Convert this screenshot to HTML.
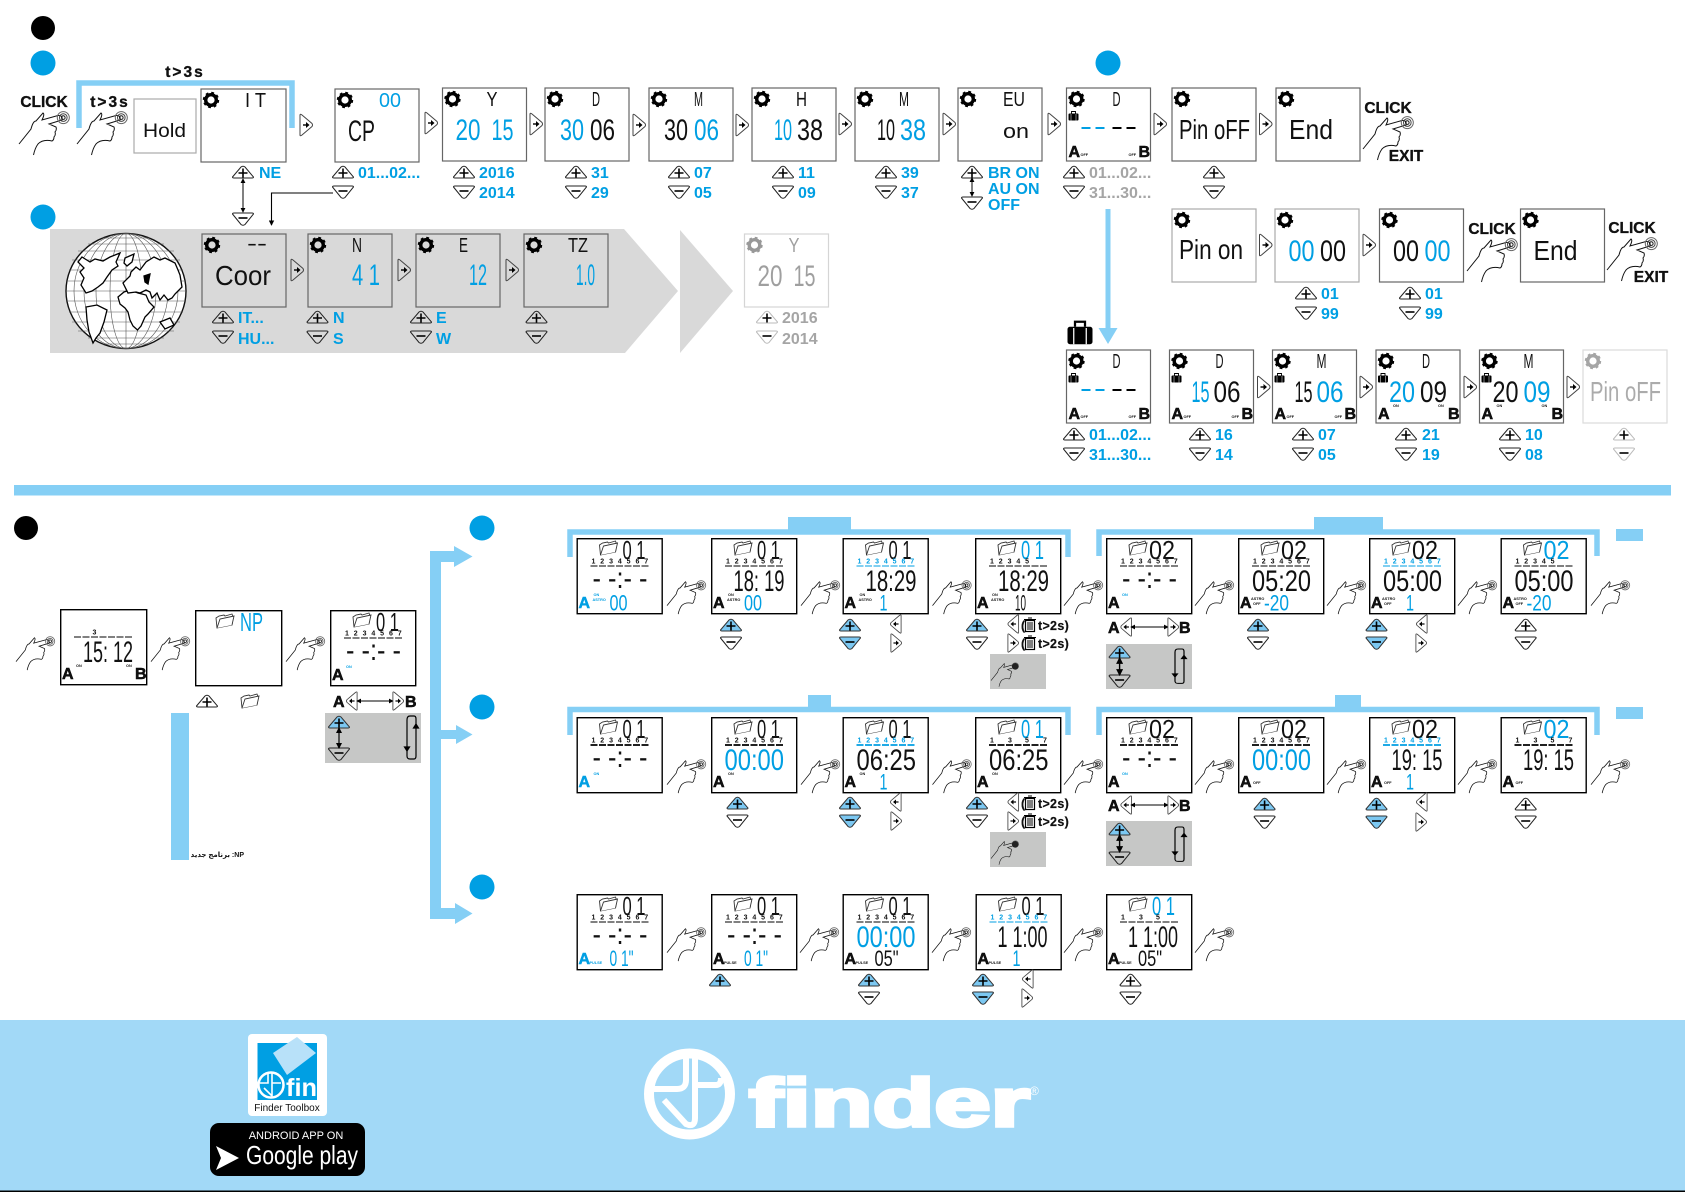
<!DOCTYPE html>
<html><head><meta charset="utf-8"><title>Finder</title>
<style>
html,body{margin:0;padding:0;background:#fff;width:1685px;height:1192px;overflow:hidden}
svg{display:block}
text{font-family:"Liberation Sans","DejaVu Sans",sans-serif;fill:#111}
.l{font-size:16px;font-weight:bold;fill:#009fe3}
.lg{font-size:16px;font-weight:bold;fill:#a5a5a5}
.c{font-size:15.500px;font-weight:bold;stroke:#000;stroke-width:.3}
.n{font-size:30px}
.m{font-size:26px}
.s{font-size:22px}
.t{font-size:20px}
.p{font-size:28px}
.h{font-size:19px}
.b{fill:#009fe3}
.a{font-size:16px;font-weight:bold;stroke:#000;stroke-width:.5}
.ab{font-size:16px;font-weight:bold;fill:#009fe3;stroke:#009fe3;stroke-width:.5}
.o{font-size:3.8px;font-weight:bold}
.ob{font-size:3.8px;font-weight:bold;fill:#009fe3}
.dy{font-size:7px;font-weight:bold;letter-spacing:4.9px}
.dyb{font-size:7px;font-weight:bold;letter-spacing:4.9px;fill:#009fe3}
.dyx{font-size:7px;font-weight:bold}
.x{font-size:12.500px;font-weight:bold;letter-spacing:.3px;stroke:#000;stroke-width:.2}
.bx{fill:none;stroke:#666;stroke-width:1.2}
.pw{fill:none;stroke:#222}
.pb{fill:#7cc8f2;stroke:#333}
.pg{fill:none;stroke:#bbb}
.nv{fill:#fff;stroke:#444}
.fr{fill:none;stroke:#85cff5}
</style></head><body>
<svg xmlns="http://www.w3.org/2000/svg" width="1685" height="1192" viewBox="0 0 1685 1192">
<defs>
<marker id="ah" viewBox="0 0 6 6" refX="5" refY="3" markerWidth="5" markerHeight="5" orient="auto-start-reverse"><path d="M0 0L6 3L0 6Z" fill="#000"/></marker>
<g id="h" fill="none" stroke="#111" stroke-width="1"><path d="M0 32L12 17Q14 9 17 9L24 1Q26 2 23 8L39 3.5Q44 3 43 8L30 12L37 15Q38 18 36 20Q37 23 35 25Q35 28 33 29Q24 27 19 32Q16 36 14.5 43"/><circle cx="44.3" cy="5.6" r="6" stroke="#666"/><circle cx="44.3" cy="5.6" r="3.8" stroke="#444"/><circle cx="44.3" cy="5.6" r="1.8"/></g>
<g id="h2" transform="scale(.77)"><use href="#h"/></g>
<g id="h3" transform="scale(.55)"><use href="#h"/><circle cx="44" cy="6" r="6" fill="#222"/></g>
<g id="gr"><circle r="5.3" fill="none" stroke="#000" stroke-width="3.4"/><circle r="7" fill="none" stroke="#000" stroke-width="2.4" stroke-dasharray="2.7 2.8"/></g>
<g id="p" stroke-width="1"><path d="M-10.5 5L-2 -5Q0 -6.5 2 -5L10.5 5Q10.5 6 9 6H-9Q-10.5 6-10.5 5Z"/><path d="M-4.5 1H4.5M0 -3.5V5.500" fill="none" stroke="#000" stroke-width="1.6"/></g>
<g id="mn" stroke-width="1"><path d="M-10.500 -5L-2 5.500Q0 7 2 5.500L10.500 -5Q10.500 -6 9 -6H-9Q-10.500 -6-10.500 -5Z"/><path d="M-4.500 -1H4.500" fill="none" stroke="#000" stroke-width="1.6"/></g>
<g id="a" stroke-width="1"><path d="M-6 -10Q-6 -11.500-4 -10L6 -1.500Q7 0 6 1.500L-4 10Q-6 11.500-6 10Z"/><path d="M-3 0H1" stroke="#000" stroke-width="1.400"/><path d="M0 -3L3.500 0L0 3Z" fill="#000" stroke="none"/></g>
<g id="as" transform="scale(.85)"><use href="#a"/></g>
<g id="asl" transform="scale(-.85,.85)"><use href="#a"/></g>
<g id="bag"><rect x="-5" y="-2.500" width="10" height="7" rx="1" fill="#000"/><path d="M-2 -2.500V-4.500H2V-2.500" fill="none" stroke="#000" stroke-width=".9"/><path d="M-2.500 -2V4.500M2.500 -2V4.500" stroke="#fff" stroke-width=".5"/></g>
<g id="fold" fill="#fff" stroke="#333" stroke-width=".9"><path d="M-8 7L-9 -3L-6 -5L-1 -6L0 -5L7 -7L8 -4L7 4L-8 7Z"/><path d="M-8 7L-5 -2L9 -5L7 4"/></g>
<g id="c"><rect x=".7" y=".7" width="85" height="75" fill="#fff" stroke="#000" stroke-width="1.400"/><use href="#fold" x="32" y="10"/></g>
<g id="u"><path d="M14 28H73" stroke="#000" stroke-width="1" stroke-dasharray="7 1.500"/></g>
<g id="ub"><path d="M14 28H73" stroke="#009fe3" stroke-width="1" stroke-dasharray="7 1.500"/></g>
<g id="u2"><path d="M14 28H73" stroke="#000" stroke-width="1.800" stroke-dasharray="7 1.500"/></g>
<g id="ub2"><path d="M14 28H73" stroke="#009fe3" stroke-width="1.800" stroke-dasharray="7 1.500"/></g>
<g id="tr"><rect x="-4.500" y="-4.500" width="9" height="11" fill="#fff" stroke="#000" stroke-width="1.200"/><path d="M-6 -5.500H6M-2 -3V5M0 -3V5M2 -3V5" stroke="#000" stroke-width="1"/><path d="M-2 -7H2" stroke="#000" stroke-width="1"/></g>
<g id="lp" fill="none" stroke="#000" stroke-width="1.200"><path d="M0 4Q0 0 3 0H7Q9 0 9 3V40Q9 43 7 43H3Q0 43 0 40Z"/><path d="M-2.500 31H2.500L0 35Z" fill="#000"/><path d="M6.500 12H11.500L9 8Z" fill="#000"/></g>
</defs>

<!-- Section 1 -->
<circle cx="43" cy="28" r="12" fill="#000"/>
<circle cx="43" cy="63" r="12.500" fill="#009fe3"/>
<circle cx="43" cy="217" r="12.500" fill="#009fe3"/>
<circle cx="1108" cy="63" r="12.500" fill="#009fe3"/>
<path class="fr" stroke-width="5.500" d="M79 128V83H292V128"/>
<text class="c" x="185" y="77" text-anchor="middle" letter-spacing="2">t&gt;3s</text>
<text class="c" x="44" y="107" text-anchor="middle">CLICK</text>
<text class="c" x="110" y="107" text-anchor="middle" letter-spacing="2">t&gt;3s</text>
<use href="#h" x="19" y="112"/><use href="#h" x="77" y="112"/>
<g transform="translate(134,99)"><rect class="bx" width="62" height="54" style="stroke:#aaa"/><text class="h" x="9" y="38" textLength="43" lengthAdjust="spacingAndGlyphs">Hold</text></g>
<g transform="translate(201,89)"><rect class="bx" width="85" height="73"/><use href="#gr" x="10" y="11"/><text class="t" x="44" y="18" textLength="21" lengthAdjust="spacingAndGlyphs">I T</text></g>
<g transform="translate(335,89)"><rect class="bx" width="84" height="73"/><use href="#gr" x="10" y="11"/><text class="t b" x="44" y="18" textLength="22" lengthAdjust="spacingAndGlyphs">00</text><text class="n" x="13" y="52" textLength="27" lengthAdjust="spacingAndGlyphs">CP</text></g>
<g transform="translate(442.500,88)"><rect class="bx" width="84" height="73"/><use href="#gr" x="10" y="11"/><text class="t" x="44" y="18" textLength="11" lengthAdjust="spacingAndGlyphs">Y</text><text class="n b" x="13" y="52" textLength="25" lengthAdjust="spacingAndGlyphs">20</text><text class="n b" x="49" y="52" textLength="22" lengthAdjust="spacingAndGlyphs">15</text></g>
<g transform="translate(545,88)"><rect class="bx" width="84" height="73"/><use href="#gr" x="10" y="11"/><text class="t" x="47" y="18" textLength="8" lengthAdjust="spacingAndGlyphs">D</text><text class="n b" x="15" y="52" textLength="24" lengthAdjust="spacingAndGlyphs">30</text><text class="n" x="45" y="52" textLength="25" lengthAdjust="spacingAndGlyphs">06</text></g>
<g transform="translate(649,88)"><rect class="bx" width="84" height="73"/><use href="#gr" x="10" y="11"/><text class="t" x="45" y="18" textLength="9" lengthAdjust="spacingAndGlyphs">M</text><text class="n" x="15" y="52" textLength="24" lengthAdjust="spacingAndGlyphs">30</text><text class="n b" x="45" y="52" textLength="25" lengthAdjust="spacingAndGlyphs">06</text></g>
<g transform="translate(752,88)"><rect class="bx" width="84" height="73"/><use href="#gr" x="10" y="11"/><text class="t" x="44" y="18" textLength="11" lengthAdjust="spacingAndGlyphs">H</text><text class="n b" x="22" y="52" textLength="18" lengthAdjust="spacingAndGlyphs">10</text><text class="n" x="45" y="52" textLength="26" lengthAdjust="spacingAndGlyphs">38</text></g>
<g transform="translate(855,88)"><rect class="bx" width="84" height="73"/><use href="#gr" x="10" y="11"/><text class="t" x="44" y="18" textLength="10" lengthAdjust="spacingAndGlyphs">M</text><text class="n" x="22" y="52" textLength="18" lengthAdjust="spacingAndGlyphs">10</text><text class="n b" x="45" y="52" textLength="26" lengthAdjust="spacingAndGlyphs">38</text></g>
<g transform="translate(958,88)"><rect class="bx" width="84" height="73"/><use href="#gr" x="10" y="11"/><text class="t" x="45" y="18" textLength="22" lengthAdjust="spacingAndGlyphs">EU</text><text class="t" x="45" y="50" textLength="26" lengthAdjust="spacingAndGlyphs">on</text></g>
<g transform="translate(1066.500,88)"><rect class="bx" width="84" height="73"/><use href="#gr" x="10" y="11"/><text class="t" x="46" y="18" textLength="8" lengthAdjust="spacingAndGlyphs">D</text><use href="#bag" x="7" y="28"/><path d="M15 40H24M29 40H38" stroke="#009fe3" stroke-width="2"/><path d="M46 40H55M60 40H69" stroke="#000" stroke-width="2"/><text class="a" x="2" y="69">A</text><text class="o" x="14" y="68">OFF</text><text class="o" x="62" y="68">OFF</text><text class="a" x="72" y="69">B</text></g>
<g transform="translate(1172,88)"><rect class="bx" width="84" height="73"/><use href="#gr" x="10" y="11"/><text class="p" x="7" y="51" textLength="71" lengthAdjust="spacingAndGlyphs">Pin oFF</text></g>
<g transform="translate(1276,88)"><rect class="bx" width="84" height="73"/><use href="#gr" x="10" y="11"/><text class="p" x="13" y="51" textLength="44" lengthAdjust="spacingAndGlyphs">End</text></g>
<use href="#a" class="nv" x="306" y="125"/><use href="#a" class="nv" x="431" y="123"/><use href="#a" class="nv" x="536" y="124"/><use href="#a" class="nv" x="639" y="125"/><use href="#a" class="nv" x="742" y="125"/><use href="#a" class="nv" x="845" y="124"/><use href="#a" class="nv" x="949" y="124"/><use href="#a" class="nv" x="1054" y="124"/><use href="#a" class="nv" x="1160" y="124"/><use href="#a" class="nv" x="1265.500" y="124"/>
<text class="c" x="1388" y="113" text-anchor="middle">CLICK</text>
<use href="#h" x="1363" y="117"/>
<text class="c" x="1406" y="161" text-anchor="middle">EXIT</text>

<use href="#p" class="pw" x="243" y="172"/><text class="l" x="259" y="178">NE</text>
<use href="#mn" class="pw" x="243" y="219"/>
<path d="M243 179V212" stroke="#000" stroke-width="1" marker-start="url(#ah)" marker-end="url(#ah)" fill="none"/>
<use href="#p" class="pw" x="343" y="172"/><text class="l" x="358" y="178">01...02...</text>
<use href="#mn" class="pw" x="343" y="192"/>
<path d="M333 193H271.500V225" fill="none" stroke="#000" stroke-width="1.100" marker-end="url(#ah)"/>
<use href="#p" class="pw" x="464" y="172"/><text class="l" x="479" y="178">2016</text>
<use href="#mn" class="pw" x="464" y="192"/><text class="l" x="479" y="198">2014</text>
<use href="#p" class="pw" x="576" y="172"/><text class="l" x="591" y="178">31</text>
<use href="#mn" class="pw" x="576" y="192"/><text class="l" x="591" y="198">29</text>
<use href="#p" class="pw" x="679" y="172"/><text class="l" x="694" y="178">07</text>
<use href="#mn" class="pw" x="679" y="192"/><text class="l" x="694" y="198">05</text>
<use href="#p" class="pw" x="783" y="172"/><text class="l" x="798" y="178">11</text>
<use href="#mn" class="pw" x="783" y="192"/><text class="l" x="798" y="198">09</text>
<use href="#p" class="pw" x="886" y="172"/><text class="l" x="901" y="178">39</text>
<use href="#mn" class="pw" x="886" y="192"/><text class="l" x="901" y="198">37</text>
<use href="#p" class="pw" x="972" y="172"/><use href="#mn" class="pw" x="972" y="203"/>
<path d="M972 178V196" stroke="#000" stroke-width="1" marker-start="url(#ah)" marker-end="url(#ah)" fill="none"/>
<text class="l" x="988" y="178">BR ON</text><text class="l" x="988" y="194">AU ON</text><text class="l" x="988" y="210">OFF</text>
<use href="#p" class="pw" x="1074" y="172"/><text class="lg" x="1089" y="178">01...02...</text>
<use href="#mn" class="pw" x="1074" y="192"/><text class="lg" x="1089" y="198">31...30...</text>
<use href="#p" class="pw" x="1214" y="172"/><use href="#mn" class="pw" x="1214" y="192"/>

<!-- grey band -->
<path d="M50 229H624L678 291L625 353H50Z" fill="#d9d9d9"/>
<path d="M680 230L733 291L680 353Z" fill="#d9d9d9"/>
<g>
<ellipse cx="126" cy="291" rx="60" ry="57.500" fill="#fff" stroke="#111" stroke-width="1.400"/>
<g fill="none" stroke="#555" stroke-width=".6">
<ellipse cx="126" cy="291" rx="52" ry="57.500"/><ellipse cx="126" cy="291" rx="42" ry="57.500"/><ellipse cx="126" cy="291" rx="30" ry="57.500"/><ellipse cx="126" cy="291" rx="16" ry="57.500"/><path d="M126 233.500V348.500M66 291H186M67 281H185M67 301H185M69 270H183M69 312H183M72 260H180M72 322H180M78 251H174M78 331H174M88 244H164M88 338H164M102 238H150M102 344H150"/>
</g>
<g fill="#fff" stroke="#000" stroke-width="1.300">
<path d="M82 257L90 262L95 259L103 261L110 257L120 253L116 262L118 266L112 270L107 277L103 283L98 287L92 291L86 293L81 285L84 278L80 272L84 268L78 262Z"/>
<path d="M125 258L134 254L132 262L127 266L124 263Z"/>
<path d="M86 307L97 305L107 310L104 322L100 333L96 338L93 343L89 332L87 320Z"/>
<path d="M118 297L124 292L130 290L138 293L146 295L149 302L154 307L148 314L145 317L141 326L137.500 330L133 326L130 320L128 312L125 308L120 304Z"/>
<path d="M123 283L130 276L131 272L136 267L140 270L146 262L154 257L160 260L165 258L175 263L178 270L180 275L182 287L175 294L172 298L168 300L164 295L160 300L157 293L152 298L150 292L146 290L140 293L136 292L128 293Z"/>
<path d="M160 322L170 318L174 325L165 329Z"/>
<path d="M144 276L150 274L148 284L145 282Z" fill="#000"/>
</g>
</g>
<g transform="translate(202,234)"><rect class="bx" width="84" height="73"/><use href="#gr" x="10" y="11"/><text class="t" x="45" y="16" textLength="20" lengthAdjust="spacingAndGlyphs">--</text><text class="p" x="13" y="51" textLength="56" lengthAdjust="spacingAndGlyphs">Coor</text></g>
<g transform="translate(308,234)"><rect class="bx" width="84" height="73"/><use href="#gr" x="10" y="11"/><text class="t" x="44" y="18" textLength="10" lengthAdjust="spacingAndGlyphs">N</text><text class="n b" x="44" y="51" textLength="28" lengthAdjust="spacingAndGlyphs">4 1</text></g>
<g transform="translate(416,234)"><rect class="bx" width="84" height="73"/><use href="#gr" x="10" y="11"/><text class="t" x="43" y="18" textLength="9" lengthAdjust="spacingAndGlyphs">E</text><text class="n b" x="53" y="51" textLength="18" lengthAdjust="spacingAndGlyphs">12</text></g>
<g transform="translate(524,234)"><rect class="bx" width="84" height="73"/><use href="#gr" x="10" y="11"/><text class="t" x="44" y="18" textLength="20" lengthAdjust="spacingAndGlyphs">TZ</text><text class="n b" x="52" y="51" textLength="19" lengthAdjust="spacingAndGlyphs">1.0</text></g>
<use href="#a" class="nv" x="297" y="270" style="fill:none"/><use href="#a" class="nv" x="404" y="270" style="fill:none"/><use href="#a" class="nv" x="512" y="270" style="fill:none"/>
<use href="#p" class="pw" x="223" y="317"/><text class="l" x="238" y="323">IT...</text>
<use href="#mn" class="pw" x="223" y="337"/><text class="l" x="238" y="344">HU...</text>
<use href="#p" class="pw" x="317.500" y="317"/><text class="l" x="333" y="323">N</text>
<use href="#mn" class="pw" x="317.500" y="337"/><text class="l" x="333" y="344">S</text>
<use href="#p" class="pw" x="421" y="317"/><text class="l" x="436" y="323">E</text>
<use href="#mn" class="pw" x="421" y="337"/><text class="l" x="436" y="344">W</text>
<use href="#p" class="pw" x="536.500" y="317"/><use href="#mn" class="pw" x="536.500" y="337"/>
<g opacity=".4" transform="translate(744.500,234)"><rect class="bx" width="84" height="73" style="stroke:#999"/><use href="#gr" x="10" y="11"/><text class="t" x="44" y="18" textLength="11" lengthAdjust="spacingAndGlyphs">Y</text><text class="n" x="13" y="52" textLength="25" lengthAdjust="spacingAndGlyphs">20</text><text class="n" x="49" y="52" textLength="22" lengthAdjust="spacingAndGlyphs">15</text></g>
<use href="#p" class="pg" x="767" y="317"/><text class="lg" x="782" y="323">2016</text>
<use href="#mn" class="pg" x="767" y="337"/><text class="lg" x="782" y="344">2014</text>

<!-- down arrow -->
<rect x="1105.500" y="209" width="5" height="122" fill="#85cff5"/>
<path d="M1098.500 328H1117.500L1108 344Z" fill="#85cff5"/>
<g transform="translate(1080,333) scale(2.500)"><use href="#bag"/></g>

<!-- Pin on row -->
<g transform="translate(1172,209)"><rect class="bx" width="84" height="73" style="stroke:#aaa"/><use href="#gr" x="10" y="11"/><text class="p" x="7" y="50" textLength="64" lengthAdjust="spacingAndGlyphs">Pin on</text></g>
<g transform="translate(1275,209)"><rect class="bx" width="84" height="73" style="stroke:#aaa"/><use href="#gr" x="10" y="11"/><text class="n b" x="13.500" y="52" textLength="26" lengthAdjust="spacingAndGlyphs">00</text><text class="n" x="45" y="52" textLength="26" lengthAdjust="spacingAndGlyphs">00</text></g>
<g transform="translate(1379.500,209)"><rect class="bx" width="84" height="73"/><use href="#gr" x="10" y="11"/><text class="n" x="13.500" y="52" textLength="26" lengthAdjust="spacingAndGlyphs">00</text><text class="n b" x="45" y="52" textLength="26" lengthAdjust="spacingAndGlyphs">00</text></g>
<g transform="translate(1520.500,209)"><rect class="bx" width="84" height="73"/><use href="#gr" x="10" y="11"/><text class="p" x="13" y="51" textLength="44" lengthAdjust="spacingAndGlyphs">End</text></g>
<use href="#a" class="nv" x="1265.500" y="245"/><use href="#a" class="nv" x="1369" y="245"/>
<text class="c" x="1492" y="234" text-anchor="middle">CLICK</text><use href="#h" x="1467" y="239"/>
<text class="c" x="1632" y="233" text-anchor="middle">CLICK</text><use href="#h" x="1607" y="238"/>
<text class="c" x="1651" y="282" text-anchor="middle">EXIT</text>
<use href="#p" class="pw" x="1306" y="293"/><text class="l" x="1321" y="299">01</text>
<use href="#mn" class="pw" x="1306" y="313"/><text class="l" x="1321" y="319">99</text>
<use href="#p" class="pw" x="1410" y="293"/><text class="l" x="1425" y="299">01</text>
<use href="#mn" class="pw" x="1410" y="313"/><text class="l" x="1425" y="319">99</text>

<!-- Row 3 right -->
<g transform="translate(1066.500,350)"><rect class="bx" width="84" height="73"/><use href="#gr" x="10" y="11"/><text class="t" x="46" y="18" textLength="8" lengthAdjust="spacingAndGlyphs">D</text><use href="#bag" x="7" y="28"/><path d="M15 40H24M29 40H38" stroke="#009fe3" stroke-width="2"/><path d="M46 40H55M60 40H69" stroke="#000" stroke-width="2"/><text class="a" x="2" y="69">A</text><text class="o" x="14" y="68">OFF</text><text class="o" x="62" y="68">OFF</text><text class="a" x="72" y="69">B</text></g>
<g transform="translate(1169.500,350)"><rect class="bx" width="84" height="73"/><use href="#gr" x="10" y="11"/><text class="t" x="46" y="18" textLength="8" lengthAdjust="spacingAndGlyphs">D</text><use href="#bag" x="7" y="28"/><text class="n b" x="22" y="52" textLength="18" lengthAdjust="spacingAndGlyphs">15</text><text class="n" x="44" y="52" textLength="27" lengthAdjust="spacingAndGlyphs">06</text><text class="a" x="2" y="69">A</text><text class="o" x="14" y="68">OFF</text><text class="o" x="62" y="68">OFF</text><text class="a" x="72" y="69">B</text></g>
<g transform="translate(1272.500,350)"><rect class="bx" width="84" height="73"/><use href="#gr" x="10" y="11"/><text class="t" x="44" y="18" textLength="10" lengthAdjust="spacingAndGlyphs">M</text><use href="#bag" x="7" y="28"/><text class="n" x="22" y="52" textLength="18" lengthAdjust="spacingAndGlyphs">15</text><text class="n b" x="44" y="52" textLength="27" lengthAdjust="spacingAndGlyphs">06</text><text class="a" x="2" y="69">A</text><text class="o" x="14" y="68">OFF</text><text class="o" x="62" y="68">OFF</text><text class="a" x="72" y="69">B</text></g>
<g transform="translate(1376,350)"><rect class="bx" width="84" height="73"/><use href="#gr" x="10" y="11"/><text class="t" x="46" y="18" textLength="8" lengthAdjust="spacingAndGlyphs">D</text><use href="#bag" x="7" y="28"/><text class="n b" x="13" y="52" textLength="26" lengthAdjust="spacingAndGlyphs">20</text><text class="n" x="44" y="52" textLength="27" lengthAdjust="spacingAndGlyphs">09</text><text class="a" x="2" y="69">A</text><text class="o" x="17" y="57">ON</text><text class="o" x="62" y="57">ON</text><text class="a" x="72" y="69">B</text></g>
<g transform="translate(1479.500,350)"><rect class="bx" width="84" height="73"/><use href="#gr" x="10" y="11"/><text class="t" x="44" y="18" textLength="10" lengthAdjust="spacingAndGlyphs">M</text><use href="#bag" x="7" y="28"/><text class="n" x="13" y="52" textLength="26" lengthAdjust="spacingAndGlyphs">20</text><text class="n b" x="44" y="52" textLength="27" lengthAdjust="spacingAndGlyphs">09</text><text class="a" x="2" y="69">A</text><text class="o" x="17" y="57">ON</text><text class="o" x="62" y="57">ON</text><text class="a" x="72" y="69">B</text></g>
<g opacity=".35" transform="translate(1583,350)"><rect class="bx" width="84" height="73" style="stroke:#999"/><use href="#gr" x="10" y="11"/><text class="p" x="7" y="51" textLength="71" lengthAdjust="spacingAndGlyphs">Pin oFF</text></g>
<use href="#a" class="nv" x="1263.500" y="387"/><use href="#a" class="nv" x="1366" y="387"/><use href="#a" class="nv" x="1470" y="387"/><use href="#a" class="nv" x="1573" y="387"/>
<use href="#p" class="pw" x="1074" y="434"/><text class="l" x="1089" y="440">01...02...</text>
<use href="#mn" class="pw" x="1074" y="454"/><text class="l" x="1089" y="460">31...30...</text>
<use href="#p" class="pw" x="1200" y="434"/><text class="l" x="1215" y="440">16</text>
<use href="#mn" class="pw" x="1200" y="454"/><text class="l" x="1215" y="460">14</text>
<use href="#p" class="pw" x="1303" y="434"/><text class="l" x="1318" y="440">07</text>
<use href="#mn" class="pw" x="1303" y="454"/><text class="l" x="1318" y="460">05</text>
<use href="#p" class="pw" x="1406" y="434"/><text class="l" x="1422" y="440">21</text>
<use href="#mn" class="pw" x="1406" y="454"/><text class="l" x="1422" y="460">19</text>
<use href="#p" class="pw" x="1510" y="434"/><text class="l" x="1525" y="440">10</text>
<use href="#mn" class="pw" x="1510" y="454"/><text class="l" x="1525" y="460">08</text>
<use href="#p" class="pg" x="1624" y="434"/><use href="#mn" class="pg" x="1624" y="454"/>

<!-- divider -->
<rect x="14" y="485" width="1657" height="10.500" fill="#85cff5"/>

<!-- Section 2 left -->
<circle cx="26" cy="528" r="12" fill="#000"/>
<circle cx="482" cy="528" r="12.500" fill="#009fe3"/>
<circle cx="482" cy="707" r="12.500" fill="#009fe3"/>
<circle cx="482" cy="887" r="12.500" fill="#009fe3"/>
<path d="M430 551H454V546L472.500 556.500L454 567V562H441V730H456V725L472.500 734.500L456 744V739H441V908H455V903L472.500 913.500L455 924V919H430Z" fill="#85cff5"/>
<use href="#h2" x="16" y="637"/><use href="#h2" x="151" y="637"/><use href="#h2" x="286" y="637"/>
<g transform="translate(60,609)"><rect x=".7" y=".7" width="86" height="75" fill="#fff" stroke="#000" stroke-width="1.400"/><text class="dyx" x="32.500" y="25.500">3</text><use href="#u"/><text class="n" x="23" y="53" textLength="50" lengthAdjust="spacingAndGlyphs">15: 12</text><text class="a" x="2" y="70">A</text><text class="o" x="16" y="58">ON</text><text class="o" x="66" y="58">ON</text><text class="a" x="75" y="70">B</text></g>
<g transform="translate(195,610)"><rect x=".7" y=".7" width="86" height="75" fill="#fff" stroke="#000" stroke-width="1.400"/><use href="#fold" x="30" y="11"/><text class="m b" x="45" y="21" textLength="23" lengthAdjust="spacingAndGlyphs">NP</text></g>
<g transform="translate(330,610)"><use href="#c"/><text class="m" x="46" y="21" textLength="23" lengthAdjust="spacingAndGlyphs">0 1</text><text class="dy" x="15" y="25.500">1234567</text><use href="#u"/><text class="n" x="16" y="50" textLength="55" lengthAdjust="spacingAndGlyphs">- -:- -</text><text class="a" x="2" y="70">A</text><text class="ob" x="16" y="58">ON</text></g>
<use href="#p" class="pw" x="207" y="701"/><use href="#fold" x="250" y="701"/>
<text class="a" x="333" y="707">A</text><use href="#asl" class="nv" x="352" y="701"/><path d="M357 701H393" stroke="#000" stroke-width="1" marker-start="url(#ah)" marker-end="url(#ah)"/><use href="#as" class="nv" x="398" y="701"/><text class="a" x="405" y="707">B</text>
<rect x="325" y="713" width="96" height="50" fill="#c6c7c6"/>
<use href="#p" class="pb" x="339" y="722"/><use href="#mn" class="pw" x="339" y="754" style="fill:none"/><path d="M339 728V748" stroke="#000" stroke-width="1.200" marker-start="url(#ah)" marker-end="url(#ah)"/>
<use href="#lp" x="407" y="716"/>
<rect x="171" y="713" width="18" height="147" fill="#85cff5"/>
<text x="244" y="857" direction="rtl" style="unicode-bidi:embed;font-size:7px;font-weight:bold;font-family:'Liberation Sans','DejaVu Sans',sans-serif">NP: برنامج جديد</text>

<!-- Brackets -->
<g stroke-width="5.500" class="fr" fill="none"><path d="M570 557V532H1068V557"/><path d="M1099 556V532H1597V556"/><path d="M570 735V709.500H1068V735"/><path d="M1099 735V709.500H1597V735"/></g>
<g fill="#85cff5"><rect x="788" y="517" width="63" height="13"/><rect x="1314" y="517" width="69" height="13"/><rect x="808" y="695" width="23" height="13"/><rect x="1335" y="695" width="26" height="13"/><rect x="1616" y="529" width="27" height="12"/><rect x="1616" y="707" width="27" height="12"/></g>

<!-- Row A -->
<g transform="translate(576.500,538)"><use href="#c"/><text class="m" x="46" y="21" textLength="23" lengthAdjust="spacingAndGlyphs">0 1</text><text class="dy" x="15" y="25.500">1234567</text><use href="#u"/><text class="n" x="16" y="50" textLength="55" lengthAdjust="spacingAndGlyphs">- -:- -</text><text class="ab" x="2" y="70">A</text><text class="ob" x="17" y="58">ON</text><text class="ob" x="16" y="63">ASTRO</text><text class="s b" x="33" y="72.500" textLength="18" lengthAdjust="spacingAndGlyphs">00</text></g>
<g transform="translate(711,538)"><use href="#c"/><text class="m" x="46" y="21" textLength="23" lengthAdjust="spacingAndGlyphs">0 1</text><text class="dy" x="15" y="25.500">1234567</text><use href="#u"/><text class="n" x="22.500" y="53" textLength="51" lengthAdjust="spacingAndGlyphs">18: 19</text><text class="a" x="2" y="70">A</text><text class="o" x="17" y="58">ON</text><text class="o" x="16" y="63">ASTRO</text><text class="s b" x="33" y="72.500" textLength="18" lengthAdjust="spacingAndGlyphs">00</text></g>
<g transform="translate(842.500,538)"><use href="#c"/><text class="m" x="46" y="21" textLength="23" lengthAdjust="spacingAndGlyphs">0 1</text><text class="dyb" x="15" y="25.500">1234567</text><use href="#ub"/><text class="n" x="23" y="53" textLength="51" lengthAdjust="spacingAndGlyphs">18:29</text><text class="a" x="2" y="70">A</text><text class="o" x="17" y="58">ON</text><text class="o" x="16" y="63">ASTRO</text><text class="s b" x="37" y="72.500" textLength="8" lengthAdjust="spacingAndGlyphs">1</text></g>
<g transform="translate(975,538)"><use href="#c"/><text class="m b" x="46" y="21" textLength="23" lengthAdjust="spacingAndGlyphs">0 1</text><text class="dy" x="15" y="25.500">12345</text><use href="#u"/><text class="n" x="23" y="53" textLength="51" lengthAdjust="spacingAndGlyphs">18:29</text><text class="a" x="2" y="70">A</text><text class="o" x="17" y="58">ON</text><text class="o" x="16" y="63">ASTRO</text><text class="s" x="40" y="72.500" textLength="11" lengthAdjust="spacingAndGlyphs">10</text></g>
<g transform="translate(1106,538)"><use href="#c"/><text class="m" x="43" y="21" textLength="26" lengthAdjust="spacingAndGlyphs">02</text><text class="dy" x="15" y="25.500">1234567</text><use href="#u"/><text class="n" x="16" y="50" textLength="55" lengthAdjust="spacingAndGlyphs">- -:- -</text><text class="a" x="2" y="70">A</text><text class="ob" x="16" y="58">ON</text></g>
<g transform="translate(1238,538)"><use href="#c"/><text class="m" x="43" y="21" textLength="26" lengthAdjust="spacingAndGlyphs">02</text><text class="dy" x="15" y="25.500">1234567</text><use href="#u"/><text class="n" x="14" y="53" textLength="59" lengthAdjust="spacingAndGlyphs">05:20</text><text class="a" x="2" y="70">A</text><text class="o" x="13" y="62">ASTRO</text><text class="o" x="15" y="67">OFF</text><text class="s b" x="26" y="72.500" textLength="25" lengthAdjust="spacingAndGlyphs">-20</text></g>
<g transform="translate(1369,538)"><use href="#c"/><text class="m" x="43" y="21" textLength="26" lengthAdjust="spacingAndGlyphs">02</text><text class="dyb" x="15" y="25.500">1234567</text><use href="#ub"/><text class="n" x="14" y="53" textLength="59" lengthAdjust="spacingAndGlyphs">05:00</text><text class="a" x="2" y="70">A</text><text class="o" x="13" y="62">ASTRO</text><text class="o" x="15" y="67">OFF</text><text class="s b" x="37" y="72.500" textLength="8" lengthAdjust="spacingAndGlyphs">1</text></g>
<g transform="translate(1500.500,538)"><use href="#c"/><text class="m b" x="43" y="21" textLength="26" lengthAdjust="spacingAndGlyphs">02</text><text class="dy" x="15" y="25.500">12345</text><use href="#u"/><text class="n" x="14" y="53" textLength="59" lengthAdjust="spacingAndGlyphs">05:00</text><text class="a" x="2" y="70">A</text><text class="o" x="13" y="62">ASTRO</text><text class="o" x="15" y="67">OFF</text><text class="s b" x="26" y="72.500" textLength="25" lengthAdjust="spacingAndGlyphs">-20</text></g>
<use href="#h2" x="667" y="581"/><use href="#h2" x="801" y="581"/><use href="#h2" x="932.500" y="581"/><use href="#h2" x="1064" y="581"/><use href="#h2" x="1195" y="581"/><use href="#h2" x="1327" y="581"/><use href="#h2" x="1458" y="581"/><use href="#h2" x="1591" y="581"/>
<use href="#p" class="pb" x="731" y="625"/><use href="#mn" class="pw" x="731" y="643"/>
<use href="#p" class="pb" x="850" y="625"/><use href="#mn" class="pb" x="850" y="643"/>
<use href="#asl" class="nv" x="896" y="624"/><use href="#as" class="nv" x="896" y="643"/>
<use href="#p" class="pb" x="977" y="625"/><use href="#mn" class="pw" x="977" y="643"/>
<use href="#asl" class="nv" x="1013.500" y="624"/><use href="#as" class="nv" x="1013" y="643"/>
<text class="x" x="1021" y="630">(</text><use href="#tr" x="1030" y="625"/><text class="x" x="1038" y="630">t&gt;2s)</text>
<text class="x" x="1021" y="648">(</text><use href="#tr" x="1030" y="643"/><text class="x" x="1038" y="648">t&gt;2s)</text>
<rect x="990" y="654" width="56" height="35" fill="#c6c7c6"/><use href="#h3" x="991" y="663"/>
<text class="a" x="1108" y="633">A</text><use href="#asl" class="nv" x="1126.400" y="627"/><path d="M1131 627H1168" stroke="#000" stroke-width="1" marker-start="url(#ah)" marker-end="url(#ah)"/><use href="#as" class="nv" x="1173" y="627"/><text class="a" x="1179" y="633">B</text>
<rect x="1106" y="644" width="86" height="45" fill="#c6c7c6"/>
<use href="#p" class="pb" x="1119.600" y="652"/><use href="#mn" class="pw" x="1119.600" y="681"/><path d="M1119.600 658V675" stroke="#000" stroke-width="1.400" marker-start="url(#ah)" marker-end="url(#ah)"/>
<g transform="translate(1175,649) scale(1,.8)"><use href="#lp"/></g>
<use href="#p" class="pb" x="1258" y="625"/><use href="#mn" class="pw" x="1258" y="643"/>
<use href="#p" class="pb" x="1376.500" y="625"/><use href="#mn" class="pb" x="1376.500" y="643"/>
<use href="#asl" class="nv" x="1422" y="624"/><use href="#as" class="nv" x="1421" y="643"/>
<use href="#p" class="pw" x="1525.700" y="625"/><use href="#mn" class="pw" x="1525.700" y="643"/>

<!-- Row B -->
<g transform="translate(576.500,717)"><use href="#c"/><text class="m" x="46" y="21" textLength="23" lengthAdjust="spacingAndGlyphs">0 1</text><text class="dy" x="15" y="25.500">1234567</text><use href="#u2"/><text class="n" x="16" y="50" textLength="55" lengthAdjust="spacingAndGlyphs">- -:- -</text><text class="ab" x="2" y="70">A</text><text class="ob" x="17" y="58">ON</text></g>
<g transform="translate(711,717)"><use href="#c"/><text class="m" x="46" y="21" textLength="23" lengthAdjust="spacingAndGlyphs">0 1</text><text class="dy" x="15" y="25.500">1234567</text><use href="#u2"/><text class="n b" x="13.500" y="53" textLength="59.500" lengthAdjust="spacingAndGlyphs">00:00</text><text class="a" x="2" y="70">A</text><text class="o" x="17" y="58">ON</text></g>
<g transform="translate(842.500,717)"><use href="#c"/><text class="m" x="46" y="21" textLength="23" lengthAdjust="spacingAndGlyphs">0 1</text><text class="dyb" x="15" y="25.500">1234567</text><use href="#ub2"/><text class="n" x="14" y="53" textLength="59.500" lengthAdjust="spacingAndGlyphs">06:25</text><text class="a" x="2" y="70">A</text><text class="o" x="17" y="58">ON</text><text class="s b" x="37" y="72.500" textLength="8" lengthAdjust="spacingAndGlyphs">1</text></g>
<g transform="translate(975,717)"><use href="#c"/><text class="m b" x="46" y="21" textLength="23" lengthAdjust="spacingAndGlyphs">0 1</text><text class="dyx" x="15 33 50 68" y="25.500">1357</text><use href="#u2"/><text class="n" x="14" y="53" textLength="59.500" lengthAdjust="spacingAndGlyphs">06:25</text><text class="a" x="2" y="70">A</text><text class="o" x="17" y="58">ON</text></g>
<g transform="translate(1106,717)"><use href="#c"/><text class="m" x="43" y="21" textLength="26" lengthAdjust="spacingAndGlyphs">02</text><text class="dy" x="15" y="25.500">1234567</text><use href="#u2"/><text class="n" x="16" y="50" textLength="55" lengthAdjust="spacingAndGlyphs">- -:- -</text><text class="a" x="2" y="70">A</text><text class="ob" x="16" y="58">ON</text></g>
<g transform="translate(1238,717)"><use href="#c"/><text class="m" x="43" y="21" textLength="26" lengthAdjust="spacingAndGlyphs">02</text><text class="dy" x="15" y="25.500">1234567</text><use href="#u2"/><text class="n b" x="14" y="53" textLength="59" lengthAdjust="spacingAndGlyphs">00:00</text><text class="a" x="2" y="70">A</text><text class="o" x="15" y="67">OFF</text></g>
<g transform="translate(1369,717)"><use href="#c"/><text class="m" x="43" y="21" textLength="26" lengthAdjust="spacingAndGlyphs">02</text><text class="dyb" x="15" y="25.500">1234567</text><use href="#ub2"/><text class="n" x="22.500" y="53" textLength="51" lengthAdjust="spacingAndGlyphs">19: 15</text><text class="a" x="2" y="70">A</text><text class="o" x="15" y="67">OFF</text><text class="s b" x="37" y="72.500" textLength="8" lengthAdjust="spacingAndGlyphs">1</text></g>
<g transform="translate(1500.500,717)"><use href="#c"/><text class="m b" x="43" y="21" textLength="26" lengthAdjust="spacingAndGlyphs">02</text><text class="dyx" x="15 33 50 68" y="25.500">1357</text><use href="#u2"/><text class="n" x="22.500" y="53" textLength="51" lengthAdjust="spacingAndGlyphs">19: 15</text><text class="a" x="2" y="70">A</text><text class="o" x="15" y="67">OFF</text></g>
<use href="#h2" x="667" y="760"/><use href="#h2" x="801" y="760"/><use href="#h2" x="932.500" y="760"/><use href="#h2" x="1064" y="760"/><use href="#h2" x="1195" y="760"/><use href="#h2" x="1327" y="760"/><use href="#h2" x="1458" y="760"/><use href="#h2" x="1591" y="760"/>
<use href="#p" class="pb" x="737.500" y="803"/><use href="#mn" class="pw" x="737.500" y="821"/>
<use href="#p" class="pb" x="850" y="803"/><use href="#mn" class="pb" x="850" y="821"/>
<use href="#asl" class="nv" x="896" y="802"/><use href="#as" class="nv" x="896" y="821"/>
<use href="#p" class="pb" x="977" y="803"/><use href="#mn" class="pw" x="977" y="821"/>
<use href="#asl" class="nv" x="1013.500" y="802"/><use href="#as" class="nv" x="1013" y="821"/>
<text class="x" x="1021" y="808">(</text><use href="#tr" x="1030" y="803"/><text class="x" x="1038" y="808">t&gt;2s)</text>
<text class="x" x="1021" y="826">(</text><use href="#tr" x="1030" y="821"/><text class="x" x="1038" y="826">t&gt;2s)</text>
<rect x="990" y="832" width="56" height="35" fill="#c6c7c6"/><use href="#h3" x="991" y="841"/>
<text class="a" x="1108" y="811">A</text><use href="#asl" class="nv" x="1126.400" y="805"/><path d="M1131 805H1168" stroke="#000" stroke-width="1" marker-start="url(#ah)" marker-end="url(#ah)"/><use href="#as" class="nv" x="1173" y="805"/><text class="a" x="1179" y="811">B</text>
<rect x="1106" y="821" width="86" height="45" fill="#c6c7c6"/>
<use href="#p" class="pb" x="1119.600" y="829"/><use href="#mn" class="pw" x="1119.600" y="858"/><path d="M1119.600 835V852" stroke="#000" stroke-width="1.400" marker-start="url(#ah)" marker-end="url(#ah)"/>
<g transform="translate(1175,827) scale(1,.8)"><use href="#lp"/></g>
<use href="#p" class="pb" x="1264.600" y="804"/><use href="#mn" class="pw" x="1264.600" y="822"/>
<use href="#p" class="pb" x="1376.500" y="804"/><use href="#mn" class="pb" x="1376.500" y="822"/>
<use href="#asl" class="nv" x="1422" y="802"/><use href="#as" class="nv" x="1421" y="822"/>
<use href="#p" class="pw" x="1525.700" y="804"/><use href="#mn" class="pw" x="1525.700" y="822"/>

<!-- Row C -->
<g transform="translate(576.500,894)"><use href="#c"/><text class="m" x="46" y="21" textLength="23" lengthAdjust="spacingAndGlyphs">0 1</text><text class="dy" x="15" y="25.500">1234567</text><use href="#u"/><text class="n" x="16" y="50" textLength="55" lengthAdjust="spacingAndGlyphs">- -:- -</text><text class="ab" x="2" y="70">A</text><text class="ob" x="13" y="70">PULSE</text><text class="s b" x="33" y="72" textLength="24" lengthAdjust="spacingAndGlyphs">0 1"</text></g>
<g transform="translate(711,894)"><use href="#c"/><text class="m" x="46" y="21" textLength="23" lengthAdjust="spacingAndGlyphs">0 1</text><text class="dy" x="15" y="25.500">1234567</text><use href="#u"/><text class="n" x="16" y="50" textLength="55" lengthAdjust="spacingAndGlyphs">- -:- -</text><text class="a" x="2" y="70">A</text><text class="o" x="13" y="70">PULSE</text><text class="s b" x="33" y="72" textLength="24" lengthAdjust="spacingAndGlyphs">0 1"</text></g>
<g transform="translate(842.500,894)"><use href="#c"/><text class="m" x="46" y="21" textLength="23" lengthAdjust="spacingAndGlyphs">0 1</text><text class="dy" x="15" y="25.500">1234567</text><use href="#u"/><text class="n b" x="14" y="53" textLength="59" lengthAdjust="spacingAndGlyphs">00:00</text><text class="a" x="2" y="70">A</text><text class="o" x="13" y="70">PULSE</text><text class="s" x="32" y="72" textLength="24" lengthAdjust="spacingAndGlyphs">05"</text></g>
<g transform="translate(975.500,894)"><use href="#c"/><text class="m" x="46" y="21" textLength="23" lengthAdjust="spacingAndGlyphs">0 1</text><text class="dyb" x="15" y="25.500">1234567</text><use href="#ub"/><text class="n" x="22" y="53" textLength="50" lengthAdjust="spacingAndGlyphs">1 1:00</text><text class="a" x="2" y="70">A</text><text class="o" x="13" y="70">PULSE</text><text class="s b" x="37" y="72" textLength="8" lengthAdjust="spacingAndGlyphs">1</text></g>
<g transform="translate(1106,894)"><use href="#c"/><text class="m b" x="46" y="21" textLength="23" lengthAdjust="spacingAndGlyphs">0 1</text><text class="dyx" x="15 33 50" y="25.500">135</text><use href="#u"/><text class="n" x="22" y="53" textLength="50" lengthAdjust="spacingAndGlyphs">1 1:00</text><text class="a" x="2" y="70">A</text><text class="o" x="13" y="70">PULSE</text><text class="s" x="32" y="72" textLength="24" lengthAdjust="spacingAndGlyphs">05"</text></g>
<use href="#h2" x="667" y="928"/><use href="#h2" x="800" y="928"/><use href="#h2" x="932" y="928"/><use href="#h2" x="1064" y="928"/><use href="#h2" x="1195" y="928"/>
<use href="#p" class="pb" x="720" y="980"/>
<use href="#p" class="pb" x="869" y="980"/><use href="#mn" class="pw" x="869" y="998"/>
<use href="#p" class="pb" x="983" y="980"/><use href="#mn" class="pb" x="983" y="998"/>
<use href="#asl" class="nv" x="1028" y="979"/><use href="#as" class="nv" x="1027" y="998"/>
<use href="#p" class="pw" x="1130.500" y="980"/><use href="#mn" class="pw" x="1130.500" y="998"/>

<!-- Footer -->
<rect x="0" y="1020" width="1685" height="172" fill="#a2d9f7"/>
<rect x="0" y="1190.500" width="1685" height="1.500" fill="#000"/>
<rect x="248" y="1034" width="79" height="82" rx="4" fill="#fff"/>
<rect x="257.500" y="1043" width="59.500" height="57" fill="#009fe3"/>
<path d="M297 1037L316 1053L287 1075L273 1053Z" fill="#b8e1f9"/>
<circle cx="271" cy="1085" r="12.500" fill="#009fe3" stroke="#fff" stroke-width="2.500"/>
<path d="M260 1083H268V1073M264 1088L272 1096V1073M272 1083H281" fill="none" stroke="#fff" stroke-width="1.600"/>
<text x="286" y="1096" style="font-size:25px;font-weight:bold;fill:#fff" textLength="31" lengthAdjust="spacingAndGlyphs">fin</text>
<text x="287" y="1111" text-anchor="middle" style="font-size:10px">Finder Toolbox</text>
<rect x="210" y="1123" width="155" height="53" rx="9" fill="#000"/>
<text x="296" y="1139" text-anchor="middle" style="font-size:11px;fill:#fff">ANDROID APP ON</text>
<path d="M216 1146L239 1158L216 1170L221 1158Z" fill="#fff"/>
<text x="246" y="1164" style="font-size:26px;fill:#fff;font-family:'Liberation Sans',sans-serif" textLength="112" lengthAdjust="spacingAndGlyphs">Google play</text>
<circle cx="689.500" cy="1094" r="40.500" fill="none" stroke="#fff" stroke-width="10"/>
<path d="M653 1089H677Q686 1089 686 1080V1056M664 1100L686 1124Q695 1128 695 1118V1056M695 1085H716Q721 1085 721 1078" fill="none" stroke="#fff" stroke-width="6"/>
<text x="749" y="1126" style="font-size:68px;font-weight:bold;fill:#fff;stroke:#fff;stroke-width:3.500" textLength="281" lengthAdjust="spacingAndGlyphs">finder</text>
<text x="1030" y="1095" style="font-size:12px;fill:#fff">®</text>
</svg>
</body></html>
